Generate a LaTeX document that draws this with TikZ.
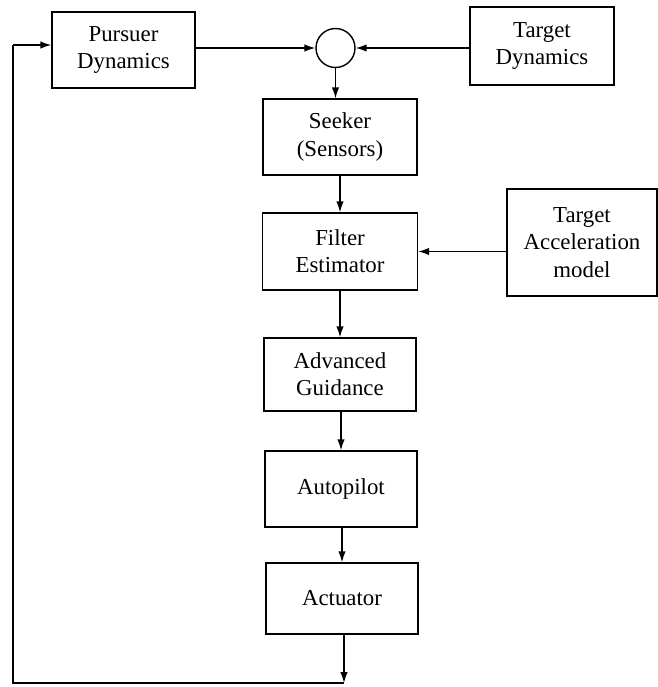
\documentclass[tikz,border=0pt]{standalone}
\usepackage{fontspec}
\setmainfont{Liberation Serif}
\usepackage{tikz}
\usetikzlibrary{arrows.meta}

\begin{document}
\begin{tikzpicture}[x=0.02cm,y=-0.02cm,
  blk/.style={draw, line width=0.8pt, align=center, inner sep=2pt,
    font=\fontsize{13}{15.5}\selectfont},
  sumpt/.style={draw, circle, line width=0.8pt, minimum size=0.78cm, inner sep=0pt},
  flow/.style={line width=0.8pt, -{Latex[length=2.2mm,width=1.5mm]}},
  wire/.style={line width=0.8pt}]
\useasboundingbox (0,0) rectangle (658,687);
\node [blk, minimum width=2.86cm, minimum height=1.52cm] (pursuer) at (123.5,50) {Pursuer\\Dynamics};
\node [sumpt] (sum) at (335.5,48) {};
\node [blk, minimum width=2.88cm, minimum height=1.56cm] (target) at (542,46) {Target\\Dynamics};
\node [blk, minimum width=3.08cm, minimum height=1.52cm] (seeker) at (340,137) {Seeker\\(Sensors)};
\node [blk, minimum width=3.10cm, minimum height=1.54cm] (filter) at (340,251.5) {Filter\\Estimator};
\node [blk, minimum width=3.00cm, minimum height=2.14cm] (accmodel) at (582,242.5) {Target\\Acceleration\\model};
\node [blk, minimum width=3.04cm, minimum height=1.46cm] (guidance) at (340,374.5) {Advanced\\Guidance};
\node [blk, minimum width=3.04cm, minimum height=1.52cm] (autopilot) at (341,489) {Autopilot};
\node [blk, minimum width=3.04cm, minimum height=1.42cm] (actuator) at (342,598.5) {Actuator};
\coordinate (botright) at (344,683);
\coordinate (botleft) at (13,683);
\coordinate (topleft) at (13,45);

\draw [flow] (pursuer.east |- sum) -- (sum);
\draw [flow] (target.west |- sum) -- (sum);
\draw [flow] (sum) -- (sum |- seeker.north);
\draw [flow] (seeker) -- (filter);
\draw [flow] (accmodel.west |- filter) -- (filter);
\draw [flow] (filter) -- (guidance);
\draw [flow] (guidance.south -| autopilot) -- (autopilot);
\draw [flow] (autopilot.south -| actuator) -- (actuator);
\draw [flow] (actuator.south -| botright) -- (botright);
\draw [wire] (botright) -- (botleft) -- (topleft);
\draw [flow] (topleft) -- (pursuer.west |- topleft);

\end{tikzpicture}
\end{document}
